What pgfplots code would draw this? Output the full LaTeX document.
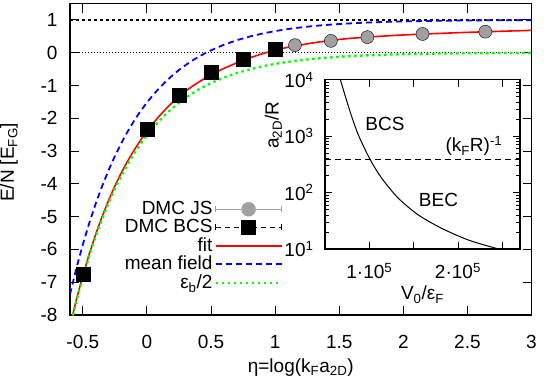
\documentclass[border=0pt]{standalone}
\usepackage{fontspec}
\setmainfont{Liberation Sans}
\usepackage{pgfplots}
\pgfplotsset{compat=1.18}
\definecolor{ptgray}{RGB}{160,160,160}
\definecolor{fitred}{RGB}{255,0,0}
\definecolor{mfblue}{RGB}{0,0,255}
\definecolor{ebgreen}{RGB}{0,255,0}
\begin{document}
\fontsize{19}{22}\selectfont
\begin{tikzpicture}
\path[use as bounding box] (-70pt,-68pt) rectangle (483pt,315pt);
\begin{axis}[
  at={(0pt,0pt)}, anchor=south west,
  scale only axis, width=461.5pt, height=311.5pt,
  xmin=-0.6, xmax=3, ymin=-8, ymax=1.5,
  xtick={-0.5,0,0.5,1,1.5,2,2.5,3},
  xticklabels={-0.5,0,0.5,1,1.5,2,2.5,3},
  ytick={-8,-7,-6,-5,-4,-3,-2,-1,0,1},
  yticklabels={-8,-7,-6,-5,-4,-3,-2,-1,0,1},
  tick align=inside,
  major tick length=9pt,
  axis line style={line width=1.4pt},
  every tick/.style={line width=1pt, black},
  font=\fontsize{19}{22}\selectfont,
  xticklabel style={yshift=-14pt},
  yticklabel style={xshift=-6pt},
  xlabel={η=log(k\textsubscript{F}a\textsubscript{2D})},
  ylabel={E/N [E\textsubscript{FG}]},
  xlabel style={at={(axis description cs:0.5,-0.168)}, anchor=center},
  ylabel style={at={(axis description cs:-0.132,0.49)}, anchor=center},
  legend style={at={(rel axis cs:0.4615,0.3724)}, anchor=north east, draw=none, fill=none,
    font=\fontsize{19}{19}\selectfont, row sep=-2pt, inner sep=0pt},
  legend cell align=right,
  legend plot pos=right,
]
\addplot[black, line width=1.3pt, dash pattern=on 3pt off 3pt, forget plot] coordinates {(-0.6,1) (3,1)};
\addplot[black, line width=0.7pt, dash pattern=on 1pt off 2pt, forget plot] coordinates {(-0.6,0) (3,0)};

\addplot[only marks, mark=*, mark size=6.5pt, mark options={fill=ptgray, draw=none},
  legend image code/.code={
    \draw[ptgray, line width=0.8pt] (0pt,0pt) -- (66pt,0pt) (0pt,-3pt) -- (0pt,3pt) (66pt,-3pt) -- (66pt,3pt);
    \fill[ptgray] (33pt,0pt) circle (7pt);}]
  coordinates {(1.155,0.23) (1.435,0.36) (1.72,0.475) (2.15,0.57) (2.64,0.64)};
\addlegendentry{DMC JS}

\addplot[only marks, mark=square*, mark size=7pt, mark options={fill=black, draw=none},
  legend image code/.code={
    \draw[black, line width=0.8pt, dash pattern=on 5pt off 4pt] (0pt,0pt) -- (66pt,0pt);
    \draw[black, line width=0.8pt] (0pt,-3pt) -- (0pt,3pt) (66pt,-3pt) -- (66pt,3pt);
    \fill[black] (26pt,-7pt) rectangle (40pt,7pt);}]
  coordinates {(-0.5,-6.76) (0,-2.34) (0.25,-1.30) (0.5,-0.61) (0.75,-0.19) (1,0.12)};
\addlegendentry{DMC BCS}

\addplot[draw=fitred, line width=1.6pt, no marks,
  legend image code/.code={\draw[fitred, line width=1.6pt] (0pt,0pt) -- (66pt,0pt);}]
  coordinates {
(-0.60,-8.337) (-0.55,-7.531) (-0.50,-6.800) (-0.45,-6.141) (-0.40,-5.543) (-0.35,-5.003)
(-0.30,-4.512) (-0.25,-4.068) (-0.20,-3.664) (-0.15,-3.302) (-0.10,-2.973) (-0.05,-2.673)
(0.00,-2.400) (0.05,-2.148) (0.10,-1.918) (0.15,-1.707) (0.20,-1.514) (0.25,-1.338)
(0.30,-1.178) (0.35,-1.036) (0.40,-0.907) (0.45,-0.788) (0.50,-0.677) (0.60,-0.479)
(0.70,-0.311) (0.80,-0.159) (0.90,-0.032) (1.00,0.079) (1.10,0.166) (1.20,0.236)
(1.30,0.303) (1.40,0.357) (1.50,0.405) (1.60,0.442) (1.70,0.471) (1.80,0.496)
(1.90,0.520) (2.00,0.541) (2.20,0.576) (2.40,0.606) (2.60,0.633) (2.80,0.658) (3.00,0.681)};
\addlegendentry{fit}

\addplot[draw=mfblue, line width=1.8pt, no marks, dash pattern=on 6pt off 4pt,
  legend image code/.code={\draw[mfblue, line width=1.8pt, dash pattern=on 6pt off 4pt] (0pt,0pt) -- (66pt,0pt);}]
  coordinates {
(-0.60,-7.367) (-0.55,-6.571) (-0.50,-5.850) (-0.45,-5.198) (-0.40,-4.608) (-0.35,-4.075)
(-0.30,-3.592) (-0.25,-3.155) (-0.20,-2.759) (-0.15,-2.402) (-0.10,-2.078) (-0.05,-1.785)
(0.00,-1.520) (0.05,-1.280) (0.10,-1.063) (0.15,-0.867) (0.20,-0.689) (0.25,-0.528)
(0.30,-0.383) (0.35,-0.251) (0.40,-0.132) (0.45,-0.025) (0.50,0.073) (0.60,0.241)
(0.70,0.379) (0.80,0.491) (0.90,0.583) (1.00,0.659) (1.10,0.721) (1.20,0.771)
(1.30,0.813) (1.40,0.847) (1.50,0.875) (1.60,0.897) (1.70,0.916) (1.80,0.931)
(1.90,0.944) (2.00,0.954) (2.20,0.969) (2.40,0.979) (2.60,0.986) (2.80,0.991) (3.00,0.994)};
\addlegendentry{mean field}

\addplot[draw=ebgreen, line width=2.3pt, no marks, dash pattern=on 2.5pt off 3.5pt,
  legend image code/.code={\draw[ebgreen, line width=2.3pt, dash pattern=on 2.5pt off 3.5pt] (0pt,0pt) -- (66pt,0pt);}]
  coordinates {
(-0.60,-8.367) (-0.55,-7.571) (-0.50,-6.850) (-0.45,-6.198) (-0.40,-5.608) (-0.35,-5.075)
(-0.30,-4.592) (-0.25,-4.155) (-0.20,-3.759) (-0.15,-3.402) (-0.10,-3.078) (-0.05,-2.785)
(0.00,-2.520) (0.05,-2.280) (0.10,-2.063) (0.15,-1.867) (0.20,-1.689) (0.25,-1.528)
(0.30,-1.383) (0.35,-1.251) (0.40,-1.132) (0.45,-1.025) (0.50,-0.927) (0.60,-0.759)
(0.70,-0.621) (0.80,-0.509) (0.90,-0.417) (1.00,-0.341) (1.10,-0.279) (1.20,-0.229)
(1.30,-0.187) (1.40,-0.153) (1.50,-0.125) (1.60,-0.103) (1.70,-0.084) (1.80,-0.069)
(1.90,-0.056) (2.00,-0.046) (2.20,-0.031) (2.40,-0.021) (2.60,-0.014) (2.80,-0.009) (3.00,-0.006)};
\addlegendentry{ε\textsubscript{b}/2}
\end{axis}

\begin{axis}[
  at={(255pt,66pt)}, anchor=south west,
  scale only axis, width=195pt, height=169.3pt,
  ymode=log, xmin=0.5, xmax=2.7, ymin=10, ymax=10000,
  xtick={1,1.5,2,2.5},
  xticklabels={1·10\textsuperscript{5},,2·10\textsuperscript{5},},
  ytick={10,100,1000,10000},
  yticklabels={10\textsuperscript{1},10\textsuperscript{2},10\textsuperscript{3},10\textsuperscript{4}},
  tick align=inside,
  major tick length=7pt, minor tick length=4pt,
  axis line style={line width=1.2pt},
  every tick/.style={line width=0.8pt, black},
  axis background/.style={fill=white},
  font=\fontsize{19}{22}\selectfont,
  xticklabel style={yshift=-8pt},
  yticklabel style={xshift=-5pt},
  xlabel={V\textsubscript{0}/ε\textsubscript{F}},
  ylabel={a\textsubscript{2D}/R},
  xlabel style={at={(axis description cs:0.5,-0.27)}, anchor=center},
  ylabel style={at={(axis description cs:-0.265,0.73)}, anchor=center},
]
\addplot[black, line width=1pt, smooth] coordinates {
(0.62,19000) (0.673,10000) (0.782,2750) (0.876,1054) (1.008,389) (1.14,179.5) (1.328,79.3)
(1.554,40.0) (1.818,23.2) (2.119,14.4) (2.458,10.0) (2.7,7.9)};
\addplot[black, line width=1pt, dash pattern=on 6pt off 4pt] coordinates {(0.5,390) (2.7,390)};
\node[anchor=base] at (axis cs:1.177,1233) {BCS};
\node[anchor=base] at (axis cs:1.78,57.8) {BEC};
\node[anchor=base] at (axis cs:2.18,524) {(k\textsubscript{F}R)\textsuperscript{-1}};
\end{axis}
\end{tikzpicture}
\end{document}
